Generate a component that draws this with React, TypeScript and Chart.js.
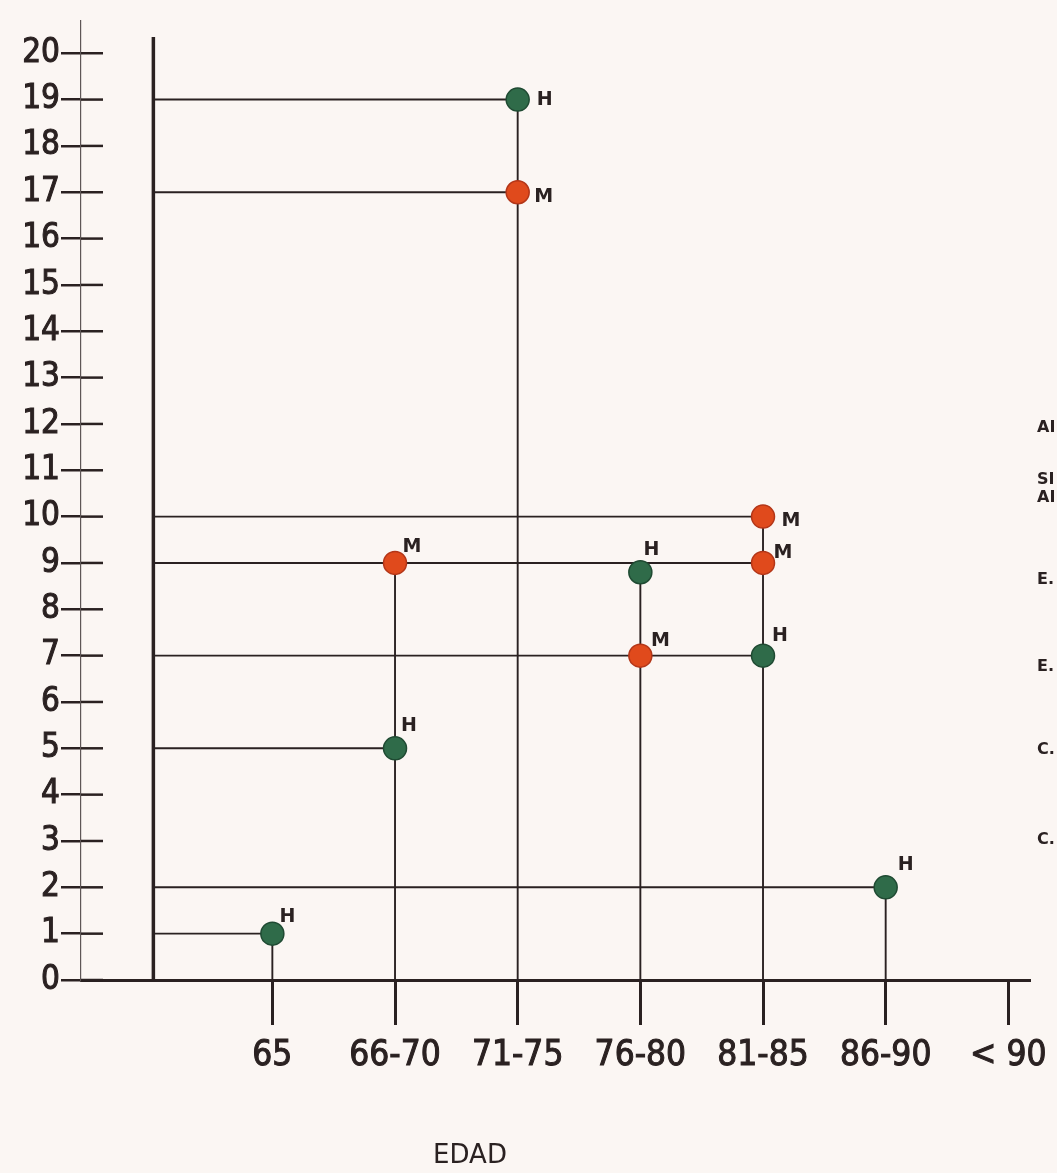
import React, { useEffect, useRef } from 'react';
import { Chart, registerables } from 'chart.js';

Chart.register(...registerables);

// ---------- data ----------
const categories = ['65', '66-70', '71-75', '76-80', '81-85', '86-90', '< 90'];
const yTickValues = [0, 1, 2, 3, 4, 5, 6, 7, 8, 9, 10, 11, 12, 13, 14, 15, 16, 17, 18, 19, 20];

// H (hombres) – green points
const hCategories = ['65', '66-70', '71-75', '76-80', '81-85', '86-90'];
const hValues = [1, 5, 19, 8.8, 7, 2];
const hLetters = ['H', 'H', 'H', 'H', 'H', 'H'];

// M (mujeres) – red points
const mCategories = ['66-70', '71-75', '76-80', '81-85', '81-85'];
const mValues = [9, 17, 7, 10, 9];
const mLetters = ['M', 'M', 'M', 'M', 'M'];

// horizontal guide lines: level and the category where they stop
const guideLevels = [19, 17, 10, 9, 7, 5, 2, 1];
const guideEnds = ['71-75', '71-75', '81-85', '81-85', '81-85', '66-70', '86-90', '65'];

const axisTitle = 'EDAD';
const marginFragments = ['AI', 'SI', 'AI', 'E.', 'E.', 'C.', 'C.'];

// ---------- layout / style ----------
const X_MIN = -1.56;
const X_MAX = 6.17;
const Y_MAX = 20.7;
const AXIS2_X = -0.97;
const AXIS2_TOP = 20.35;
const hLabelOffsets = [[15, -17], [14, -22], [27, 0], [11, -22], [17, -20], [20, -22]];
const mLabelOffsets = [[17, -16], [26, 5], [20, -15], [28, 4], [20, -10]];
const marginFragmentY = [428, 480, 498, 580, 667, 750, 840];

const INK = '#2a2121';
const PAPER = '#fbf6f3';
const GREEN = '#2f6b49';
const GREEN_EDGE = '#1f4a32';
const RED = '#e04a1c';
const RED_EDGE = '#b33618';
const NUM_FONT = "'DejaVu Sans Condensed', 'Liberation Sans Narrow', 'DejaVu Sans', sans-serif";

const idx = (c: string) => categories.indexOf(c);

export default function App() {
  const ref = useRef<HTMLCanvasElement | null>(null);

  useEffect(() => {
    document.body.style.margin = '0';
    document.body.style.background = PAPER;
    const canvas = ref.current;
    if (!canvas) return;

    const hPoints = hCategories.map((c, i) => ({ x: idx(c), y: hValues[i] }));
    const mPoints = mCategories.map((c, i) => ({ x: idx(c), y: mValues[i] }));

    // stems: from highest point of each category down to 0
    const tops: Record<number, number> = {};
    [...hPoints, ...mPoints].forEach((p) => {
      tops[p.x] = Math.max(tops[p.x] ?? 0, p.y);
    });

    const lineDs = (data: { x: number; y: number }[], width: number) => ({
      type: 'scatter' as const,
      data,
      showLine: true,
      pointRadius: 0,
      borderColor: INK,
      borderWidth: width,
      order: 2,
      clip: false as const,
    });

    const datasets: any[] = [];
    datasets.push(lineDs([{ x: AXIS2_X, y: 0 }, { x: AXIS2_X, y: AXIS2_TOP }], 3.5));
    guideLevels.forEach((lv, i) => {
      datasets.push(lineDs([{ x: AXIS2_X, y: lv }, { x: idx(guideEnds[i]), y: lv }], 1.9));
    });
    Object.keys(tops).forEach((k) => {
      const x = Number(k);
      datasets.push(lineDs([{ x, y: 0 }, { x, y: tops[x] }], 1.9));
    });
    datasets.push({
      type: 'scatter',
      data: hPoints,
      pointRadius: 11.5,
      backgroundColor: GREEN,
      borderColor: GREEN_EDGE,
      borderWidth: 1.5,
      order: 0,
      clip: false,
    });
    datasets.push({
      type: 'scatter',
      data: mPoints,
      pointRadius: 11.5,
      backgroundColor: RED,
      borderColor: RED_EDGE,
      borderWidth: 1.5,
      order: 0,
      clip: false,
    });

    const decor = {
      id: 'decor',
      beforeDraw(chart: any) {
        const { ctx } = chart;
        ctx.save();
        ctx.fillStyle = PAPER;
        ctx.fillRect(0, 0, chart.width, chart.height);
        ctx.restore();
      },
      afterDatasetsDraw(chart: any) {
        const { ctx, chartArea } = chart;
        const xs = chart.scales.x;
        const ys = chart.scales.y;
        ctx.save();
        // inner halves of the y tick marks (they cross the axis)
        ctx.strokeStyle = INK;
        ctx.lineWidth = 2.5;
        yTickValues.forEach((v) => {
          const y = ys.getPixelForValue(v);
          ctx.beginPath();
          ctx.moveTo(chartArea.left, y);
          ctx.lineTo(chartArea.left + 22, y);
          ctx.stroke();
        });
        // point letters
        ctx.fillStyle = INK;
        ctx.font = "bold 19px 'DejaVu Sans', sans-serif";
        ctx.textAlign = 'center';
        ctx.textBaseline = 'middle';
        hCategories.forEach((c, i) => {
          const px = xs.getPixelForValue(idx(c));
          const py = ys.getPixelForValue(hValues[i]);
          ctx.fillText(hLetters[i], px + hLabelOffsets[i][0], py + hLabelOffsets[i][1]);
        });
        mCategories.forEach((c, i) => {
          const px = xs.getPixelForValue(idx(c));
          const py = ys.getPixelForValue(mValues[i]);
          ctx.fillText(mLetters[i], px + mLabelOffsets[i][0], py + mLabelOffsets[i][1]);
        });
        // axis title
        ctx.font = "26px 'DejaVu Sans', sans-serif";
        ctx.fillText(axisTitle, 470, 1156);
        // cut-off legend fragments at the right margin
        ctx.font = "bold 16px 'DejaVu Sans', sans-serif";
        ctx.textAlign = 'left';
        marginFragments.forEach((t, i) => {
          ctx.fillText(t, 1037, marginFragmentY[i]);
        });
        ctx.restore();
      },
    };

    const chart = new Chart(canvas, {
      type: 'scatter',
      data: { datasets },
      options: {
        animation: false,
        responsive: false,
        devicePixelRatio: 1,
        layout: { padding: { top: 20, right: 20, left: 0, bottom: 0 } },
        plugins: { legend: { display: false }, tooltip: { enabled: false } },
        scales: {
          x: {
            type: 'linear',
            min: X_MIN,
            max: X_MAX,
            afterFit: (s: any) => {
              s.height = 193;
            },
            afterBuildTicks: (s: any) => {
              s.ticks = categories.map((_, i) => ({ value: i }));
            },
            ticks: {
              callback: (v: any) => categories[Number(v)] ?? '',
              font: { family: NUM_FONT, size: 35 },
              color: INK,
              textStrokeColor: INK,
              textStrokeWidth: 1,
              padding: 10,
              autoSkip: false,
              maxRotation: 0,
            },
            grid: { drawOnChartArea: false, drawTicks: true, tickLength: 45, lineWidth: 3, color: INK },
            border: { display: true, color: INK, width: 3 },
          },
          y: {
            type: 'linear',
            min: 0,
            max: Y_MAX,
            afterFit: (s: any) => {
              s.width = 81;
            },
            afterBuildTicks: (s: any) => {
              s.ticks = yTickValues.map((v) => ({ value: v }));
            },
            ticks: {
              font: { family: NUM_FONT, size: 33 },
              color: INK,
              textStrokeColor: INK,
              textStrokeWidth: 1,
              padding: 1,
              autoSkip: false,
            },
            grid: { drawOnChartArea: false, drawTicks: true, tickLength: 20, lineWidth: 2.5, color: INK },
            border: { display: true, color: '#5e5656', width: 1.2 },
          },
        },
      },
      plugins: [decor],
    } as any);

    return () => chart.destroy();
  }, []);

  return (
    <canvas
      ref={ref}
      width={1057}
      height={1173}
      style={{ display: 'block', width: '1057px', height: '1173px' }}
    />
  );
}
